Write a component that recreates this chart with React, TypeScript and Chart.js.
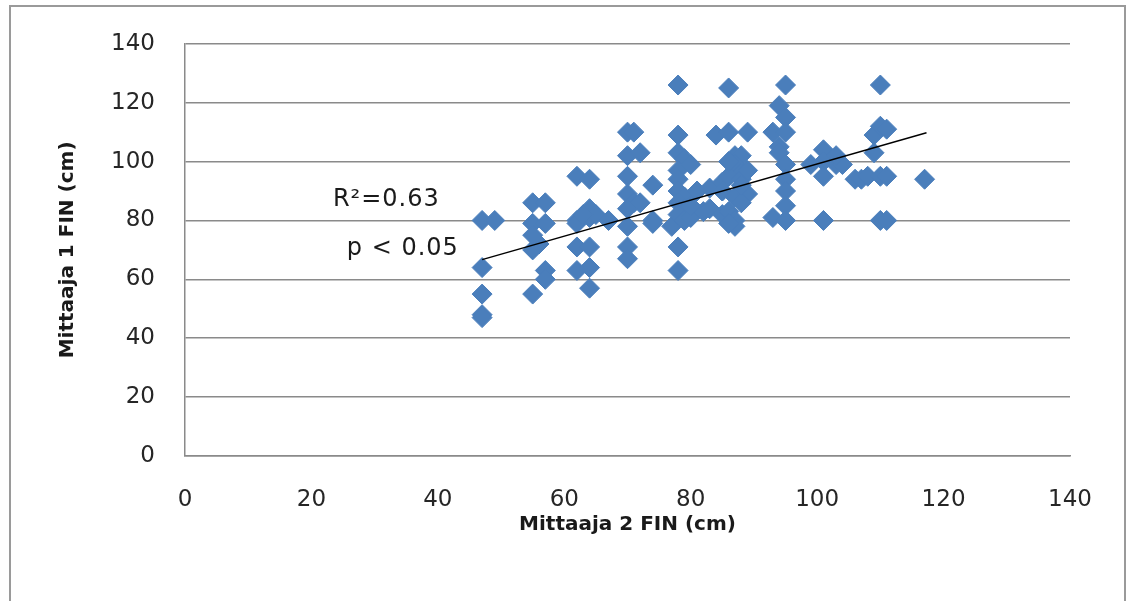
import React, { useEffect, useRef } from "react";
import { Chart, registerables } from "chart.js";

Chart.register(...registerables);

// Scatter values (Mittaaja 2 FIN on x, Mittaaja 1 FIN on y)
const xValues: number[] = [
  47, 49, 47, 47, 47, 47,
  55, 57, 55, 57, 55, 55, 57, 57, 55, 56,
  62, 64, 62, 64, 64, 62, 65, 67, 62, 64, 62, 64, 64, 63,
  70, 71, 70, 72, 70, 70, 71, 72, 74, 70, 70, 74, 74, 70, 70, 77,
  78, 78, 78, 79, 78, 78, 78, 79, 78, 79, 78, 79, 80, 78, 78, 80, 81, 82, 80,
  83, 83, 84, 85, 85, 85,
  86, 86, 89, 87, 88, 87, 88, 86, 88, 85, 87, 89, 86, 87, 87, 86, 88, 89, 88, 86,
  93, 94, 95, 95, 94, 94, 95, 95, 95, 95, 93, 95, 95,
  99, 101, 101, 103, 101, 104, 103, 101, 106, 107,
  109, 110, 111, 110, 109, 108, 110, 111, 110, 111,
  117,
];
const yValues: number[] = [
  80, 80, 64, 55, 48, 47,
  86, 86, 79, 79, 75, 70, 63, 60, 55, 72,
  95, 94, 80, 84, 81, 79, 82, 80, 71, 71, 63, 64, 57, 82,
  110, 110, 102, 103, 95, 89, 86, 86, 92, 84, 78, 80, 79, 71, 67, 78,
  126, 109, 103, 101, 97, 94, 90, 88, 86, 84, 82, 80, 81, 71, 63, 99, 90, 83, 85,
  84, 91, 109, 82, 90, 93,
  125, 110, 110, 102, 102, 99, 96, 95, 94, 90, 88, 89, 83, 80, 78, 100, 86, 97, 92, 79,
  110, 119, 115, 126, 105, 103, 99, 94, 90, 85, 81, 80, 110,
  99, 104, 100, 99, 95, 99, 102, 80, 94, 94,
  109, 112, 111, 126, 103, 95, 95, 95, 80, 80,
  94,
];

// Linear trend line end points
const trendX: number[] = [47, 117.3];
const trendY: number[] = [66.7, 109.8];

const axisMin = 0;
const axisMax = 140;
const axisStep = 20;

const xTitle = "Mittaaja 2 FIN (cm)";
const yTitle = "Mittaaja 1 FIN (cm)";
const annotationLines: string[] = ["R\u00B2=0.63", "p < 0.05"];

const GRID = "#8a8a8a";
const TICK_FONT = { family: "'DejaVu Sans', Verdana, sans-serif", size: 23 };
const TITLE_FONT = { family: "'DejaVu Sans', Verdana, sans-serif", size: 20, weight: "bold" as const };

const annotationPlugin = {
  id: "statsText",
  afterDatasetsDraw(chart: any) {
    const { ctx, scales } = chart;
    const pos = [
      { x: 23.4, y: 87 },
      { x: 25.6, y: 70.3 },
    ];
    ctx.save();
    ctx.fillStyle = "#1a1a1a";
    ctx.font = "24px 'DejaVu Sans', sans-serif";
    try {
      (ctx as any).letterSpacing = "1px";
    } catch (e) {}
    ctx.textAlign = "left";
    ctx.textBaseline = "middle";
    annotationLines.forEach((t, i) => {
      ctx.fillText(t, scales.x.getPixelForValue(pos[i].x), scales.y.getPixelForValue(pos[i].y));
    });
    ctx.restore();
  },
};

export default function App() {
  const ref = useRef<HTMLCanvasElement | null>(null);

  useEffect(() => {
    if (!ref.current) return;
    const points = xValues.map((x, i) => ({ x, y: yValues[i] }));
    const trend = trendX.map((x, i) => ({ x, y: trendY[i] }));
    const chart = new Chart(ref.current, {
      type: "scatter",
      data: {
        datasets: [
          {
            type: "line",
            label: "Trend",
            data: trend,
            borderColor: "#000000",
            borderWidth: 1.5,
            pointRadius: 0,
            fill: false,
            order: 0,
          } as any,
          {
            label: "Mittaukset",
            data: points,
            pointStyle: "rectRot",
            pointRadius: 10,
            pointHoverRadius: 10,
            backgroundColor: "#4a7ebb",
            borderColor: "#4a7ebb",
            borderWidth: 1,
            order: 1,
          },
        ],
      },
      options: {
        animation: false,
        responsive: false,
        maintainAspectRatio: false,
        events: [],
        layout: { padding: { top: 36, right: 57, left: 0, bottom: 0 } },
        plugins: {
          legend: { display: false },
          tooltip: { enabled: false },
        },
        scales: {
          x: {
            type: "linear",
            min: axisMin,
            max: axisMax,
            ticks: {
              stepSize: axisStep,
              color: "#262626",
              font: TICK_FONT,
              padding: 30,
              maxRotation: 0,
              minRotation: 0,
              autoSkip: false,
            },
            grid: { display: false, drawTicks: false },
            border: { display: true, color: GRID, width: 1.5 },
            title: {
              display: true,
              text: xTitle,
              color: "#1a1a1a",
              font: TITLE_FONT,
              padding: { top: 0, bottom: 64 },
            },
            afterFit: (s: any) => {
              s.height = 145;
            },
          },
          y: {
            type: "linear",
            min: axisMin,
            max: axisMax,
            ticks: {
              stepSize: axisStep,
              color: "#262626",
              font: TICK_FONT,
              padding: 30,
            },
            grid: { display: true, color: GRID, lineWidth: 1.5, drawTicks: false },
            border: { display: true, color: GRID, width: 1.5 },
            title: {
              display: true,
              text: yTitle,
              color: "#1a1a1a",
              font: TITLE_FONT,
              padding: { top: 56, bottom: 0 },
            },
            afterFit: (s: any) => {
              s.width = 185;
            },
          },
        },
      },
      plugins: [annotationPlugin],
    });
    return () => chart.destroy();
  }, []);

  return (
    <div
      style={{
        position: "fixed",
        left: 0,
        top: 0,
        width: 1127,
        height: 601,
        overflow: "hidden",
        background: "#ffffff",
      }}
    >
      <div
        style={{
          position: "absolute",
          left: 9,
          top: 5,
          width: 1117,
          height: 700,
          border: "2px solid #9a9a9a",
          boxSizing: "border-box",
        }}
      />
      <canvas ref={ref} width={1127} height={601} style={{ position: "absolute", left: 0, top: 0 }} />
    </div>
  );
}
